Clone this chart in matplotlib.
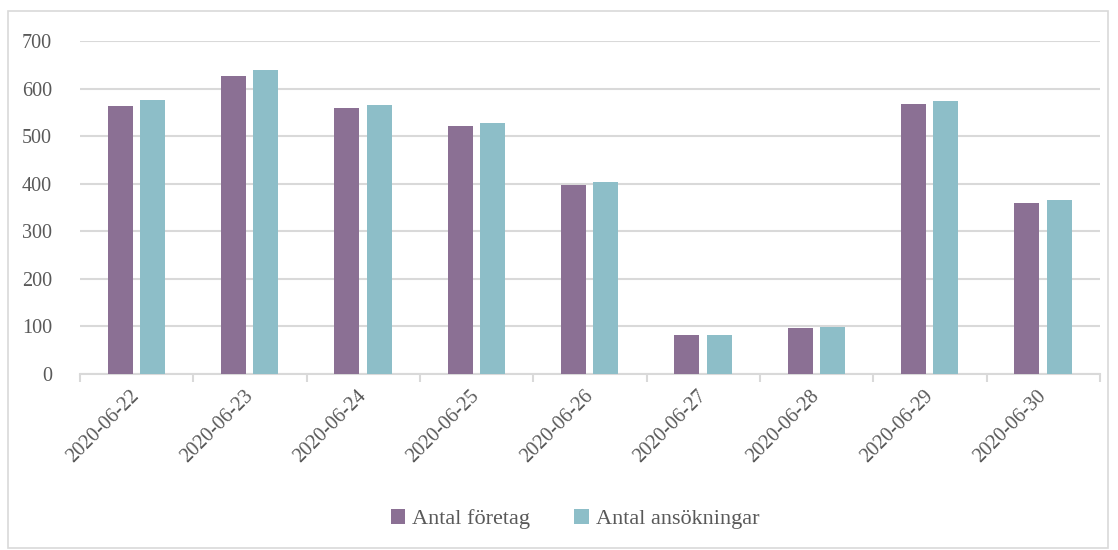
import numpy as np
import matplotlib.pyplot as plt
from matplotlib.patches import Rectangle

dates = ['2020-06-22', '2020-06-23', '2020-06-24', '2020-06-25', '2020-06-26',
         '2020-06-27', '2020-06-28', '2020-06-29', '2020-06-30']
foretag = [563, 626, 559, 521, 397, 82, 97, 568, 359]
ansokningar = [576, 639, 565, 528, 404, 82, 99, 574, 366]

purple = '#8B7094'
teal = '#8DBEC8'
grey = '#595959'

plt.rcParams['font.family'] = ['Liberation Serif', 'DejaVu Serif']

fig = plt.figure(figsize=(11.18, 5.5), dpi=100)
fig.patches.append(Rectangle((8/1118, 2/550), 1100/1118, 537/550, transform=fig.transFigure,
                             fill=False, edgecolor='#D9D9D9', linewidth=1.2))
ax = fig.add_axes([80/1118, 1-374/550, 1020/1118, 333/550])

x = np.arange(len(dates))
w = 0.22
ax.bar(x - 0.145, foretag, w, color=purple, label='Antal företag', zorder=3)
ax.bar(x + 0.14, ansokningar, w, color=teal, label='Antal ansökningar', zorder=3)

ax.set_xlim(-0.5, len(dates) - 0.5)
ax.set_ylim(0, 700)
ax.set_yticks(range(0, 701, 100))
ax.yaxis.grid(True, color='#D9D9D9', linewidth=1.5, zorder=0)
for s in ['top', 'right', 'left']:
    ax.spines[s].set_visible(False)
ax.spines['bottom'].set_color('#D9D9D9')
ax.spines['bottom'].set_linewidth(1.5)
ax.tick_params(axis='y', length=0, labelsize=14.5, labelcolor=grey, pad=20)

ax.set_xticks(np.arange(-0.5, len(dates)), minor=False)
ax.set_xticklabels([])
ax.tick_params(axis='x', which='major', length=6, color='#D9D9D9', width=1.5)
ax.set_xticks(x, minor=True)
ax.set_xticklabels(dates, minor=True, rotation=45, ha='right', va='center',
                   rotation_mode='anchor', fontsize=14.5, color=grey)
ax.tick_params(axis='x', which='minor', length=0, pad=14)

leg = fig.legend(loc='center', bbox_to_anchor=(575/1118, 1-519/550), ncol=2, frameon=False,
                 fontsize=16, handlelength=0.65, handleheight=0.65, handletextpad=0.3,
                 columnspacing=2.0)
for t in leg.get_texts():
    t.set_color(grey)

fig.savefig('out.png', dpi=100)
